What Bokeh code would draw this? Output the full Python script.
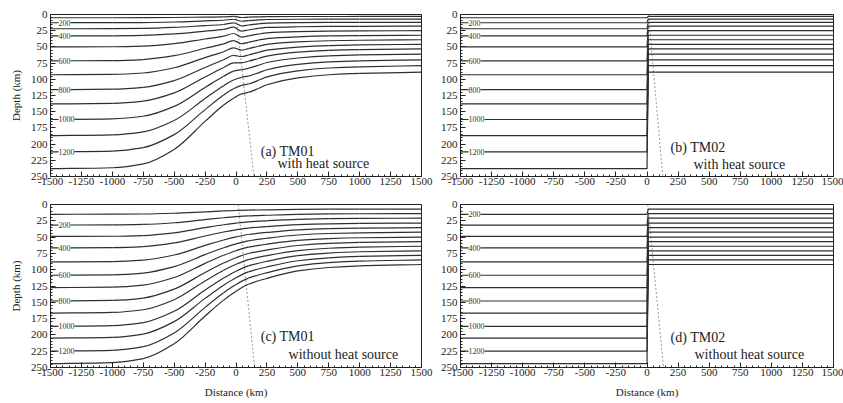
from bokeh.plotting import figure
from bokeh.models import Range1d, FixedTicker, ColumnDataSource, LabelSet, Label
from bokeh.layouts import column, row
from bokeh.embed import file_html
from bokeh.resources import INLINE

# ---------------- data ----------------
isotherms = [100, 200, 300, 400, 500, 600, 700, 800, 900, 1000, 1100, 1200, 1300]

x_ticks = [-1500, -1250, -1000, -750, -500, -250, 0, 250, 500, 750, 1000, 1250, 1500]
x_tick_labels = ["-1500", "-1250", "-1000", "-750", "-500", "-250", "0",
                 "250", "500", "750", "1000", "1250", "1500"]
y_ticks = [0, 25, 50, 75, 100, 125, 150, 175, 200, 225, 250]

# TM01 with heat source: depth (km) of each isotherm at these distances (km)
x_tm01_heat = [-1500, -1000, -750, -500, -250, -100, -20, 45, 100, 180, 250, 500, 750, 1000, 1500]
depth_tm01_heat = [
    [5, 5, 4.9, 4.6, 4.0, 3.7, 2.9, 4.6, 4.1, 3.6, 3.3, 3.1, 3.1, 3.0, 3.0],
    [12.7, 12.6, 12.4, 11.6, 9.9, 8.9, 7.3, 10.4, 9.5, 8.4, 7.7, 7.3, 7.2, 7.1, 7.0],
    [22, 21.9, 21.5, 20, 17.1, 15.4, 12.8, 17.6, 16.2, 14.4, 13.3, 12.6, 12.3, 12.1, 12],
    [33, 32.9, 32.3, 30, 25.7, 23.1, 19.6, 25.6, 23.9, 21.5, 20, 18.9, 18.4, 18.2, 18],
    [50, 49.8, 48.8, 45, 37.8, 33.5, 29.3, 34.8, 33.0, 30.2, 28.3, 26.5, 25.7, 25.3, 25],
    [71.5, 71.1, 69.5, 63.6, 52.1, 45.4, 40.2, 45.1, 43.0, 39.6, 37.1, 34.4, 33.1, 32.5, 32],
    [93, 92.5, 90.3, 82.2, 66.5, 57.4, 51.4, 55.0, 52.7, 49.0, 46.0, 42.2, 40.5, 39.7, 39],
    [116, 115.3, 112.5, 102, 81.7, 69.8, 63.2, 64.8, 62.5, 58.5, 55.1, 50.2, 47.9, 46.9, 46],
    [138, 137.2, 133.8, 121, 96.4, 81.9, 74.8, 74.4, 72.2, 67.9, 64.1, 58.1, 55.3, 54.1, 53],
    [162, 161, 157, 141.8, 112.5, 95.3, 87.4, 85.2, 83.1, 78.5, 74.1, 67.1, 63.7, 62.3, 61],
    [187, 185.8, 181.2, 163.6, 129.7, 109.8, 101.1, 97.0, 95.0, 90.0, 85.2, 77.0, 73.2, 71.5, 70],
    [212, 210.7, 205.4, 185.4, 146.8, 124.2, 114.6, 109.4, 107.2, 101.7, 96.3, 87, 82.6, 80.7, 79],
    [238, 236.5, 230.6, 208.2, 165, 139.7, 129.2, 122.5, 120.3, 114.3, 108.4, 97.9, 93, 90.9, 89],
]

# TM01 without heat source
x_tm01_noheat = [-1500, -1000, -750, -500, -250, -100, 0, 100, 250, 500, 750, 1000, 1500]
depth_tm01_noheat = [
    [15, 14.9, 14.6, 13.4, 11.2, 9.9, 9.2, 8.6, 8.1, 7.5, 7.2, 7.1, 7],
    [31.5, 31.3, 30.6, 28, 23.1, 20.3, 18.7, 17.5, 16.5, 15.1, 14.5, 14.2, 14],
    [49, 48.7, 47.6, 43.4, 35.6, 31.1, 28.6, 26.6, 24.9, 22.8, 21.8, 21.4, 21],
    [66.5, 66.1, 64.6, 58.9, 48.3, 42.2, 38.8, 36.1, 33.8, 31, 29.6, 29, 28.5],
    [88, 87.5, 85.4, 77.5, 62.8, 54.4, 49.7, 46, 42.9, 38.9, 37.1, 36.2, 35.5],
    [108.5, 107.8, 105.2, 95.3, 76.8, 66.3, 60.3, 55.7, 51.7, 46.8, 44.5, 43.4, 42.5],
    [127.5, 126.7, 123.6, 112, 90.3, 77.9, 70.9, 65.5, 60.9, 55, 52.3, 51, 50],
    [148, 147.1, 143.5, 129.8, 104.3, 89.8, 81.6, 75.2, 69.7, 62.9, 59.7, 58.2, 57],
    [166.5, 165.5, 161.4, 146, 117.3, 100.9, 91.7, 84.5, 78.4, 70.7, 67.1, 65.3, 64],
    [187, 185.8, 181.2, 163.8, 131.3, 112.8, 102.3, 94.2, 87.2, 78.5, 74.5, 72.5, 71],
    [205, 203.7, 198.7, 179.6, 144, 123.7, 112.3, 103.4, 95.8, 86.3, 81.8, 79.7, 78],
    [225, 223.6, 218, 197, 157.8, 135.4, 122.8, 113, 104.6, 94.1, 89.2, 86.8, 85],
    [244, 242.5, 236.4, 213.6, 171, 146.7, 133, 122.4, 113.3, 101.9, 96.6, 94, 92],
]

# TM02: flat isotherms left and right of the trench (x = 0)
x_tm02 = [-1500, 0, 10, 1500]
left_tm02_heat = [5, 12.7, 22, 33, 50, 71.5, 93, 116, 138, 162, 187, 212, 238]
right_tm02_heat = [3, 7, 12, 18, 25, 32, 39, 46, 53, 61, 70, 79, 89]
left_tm02_noheat = [15, 31.5, 49, 66.5, 88, 108.5, 127.5, 148, 166.5, 187, 205, 225, 244]
right_tm02_noheat = [7, 14, 21, 28.5, 35.5, 42.5, 50, 57, 64, 71, 78, 85, 92]

# contour labels: text and the isotherm (index) they sit on, per panel
contour_texts = ["200", "400", "600", "800", "1000", "1200"]
label_lines_a = [1, 3, 5, 7, 9, 11]
label_lines_b = [1, 3, 5, 7, 9, 11]
label_lines_c = [1, 3, 5, 7, 9, 11]
label_lines_d = [0, 3, 5, 7, 9, 11]

# slab boundary (dashed): x at depth 0 and at depth 250
slab_a = [0, 145]
slab_b = [12, 127]
slab_c = [18, 150]
slab_d = [6, 133]

panel_tags = ["(a) TM01", "(b) TM02", "(c) TM01", "(d) TM02"]
panel_notes = ["with heat source", "with heat source",
               "without heat source", "without heat source"]

SERIF = "Liberation Serif"
LINE_COLOR = "#2e2e2e"


def smooth_segments(xs_list, ys_list):
    """Cubic Bezier pieces through every read point (monotone tangents, no overshoot)."""
    cols = dict(x0=[], y0=[], x1=[], y1=[], cx0=[], cy0=[], cx1=[], cy1=[])
    for x, y in zip(xs_list, ys_list):
        n = len(x)
        h = [x[i + 1] - x[i] for i in range(n - 1)]
        d = [(y[i + 1] - y[i]) / h[i] for i in range(n - 1)]
        m = [0.0] * n
        m[0], m[-1] = d[0], d[-1]
        for i in range(1, n - 1):
            if d[i - 1] * d[i] <= 0:
                m[i] = 0.0
            else:
                w1 = 2 * h[i] + h[i - 1]
                w2 = h[i] + 2 * h[i - 1]
                m[i] = (w1 + w2) / (w1 / d[i - 1] + w2 / d[i])
        for i in range(n - 1):
            cols["x0"].append(x[i]); cols["y0"].append(y[i])
            cols["x1"].append(x[i + 1]); cols["y1"].append(y[i + 1])
            cols["cx0"].append(x[i] + h[i] / 3); cols["cy0"].append(y[i] + m[i] * h[i] / 3)
            cols["cx1"].append(x[i + 1] - h[i] / 3); cols["cy1"].append(y[i + 1] - m[i + 1] * h[i] / 3)
    return ColumnDataSource(cols)


def make_panel(xs_list, ys_list, smooth, label_lines, slab, tag, note, tag_pos, note_pos,
               width, height, mbl, mbr, mbt, mbb, ylabel, xlabel):
    p = figure(width=width, height=height,
               x_range=Range1d(-1500, 1500), y_range=Range1d(250, 0),
               output_backend="svg", toolbar_location=None,
               min_border_left=mbl, min_border_right=mbr,
               min_border_top=mbt, min_border_bottom=mbb)
    p.grid.visible = False
    p.outline_line_color = "#222222"
    p.outline_line_width = 1
    p.background_fill_color = "white"
    p.border_fill_color = "white"

    x_minor = [v for v in range(-1500, 1501, 50) if v not in x_ticks]
    y_minor = [v for v in range(0, 251, 5) if v not in y_ticks]
    p.xaxis.ticker = FixedTicker(ticks=x_ticks, minor_ticks=x_minor)
    p.yaxis.ticker = FixedTicker(ticks=y_ticks, minor_ticks=y_minor)
    p.xaxis.major_label_overrides = {t: s for t, s in zip(x_ticks, x_tick_labels)}
    p.yaxis.major_label_overrides = {t: str(t) for t in y_ticks}
    for ax in (p.xaxis[0], p.yaxis[0]):
        ax.major_label_text_font = SERIF
        ax.major_label_text_font_size = "11px"
        ax.major_label_text_color = "#222222"
        ax.axis_line_color = "#222222"
        ax.major_tick_line_color = "#222222"
        ax.minor_tick_line_color = "#222222"
        ax.major_tick_in = 5
        ax.major_tick_out = 0
        ax.minor_tick_in = 2
        ax.minor_tick_out = 0
        ax.axis_label_text_font = SERIF
        ax.axis_label_text_font_size = "11px"
        ax.axis_label_text_font_style = "normal"
        ax.axis_label_text_color = "#222222"
    p.xaxis.major_label_standoff = 1
    p.yaxis.major_label_standoff = 3
    if ylabel:
        p.yaxis.axis_label = ylabel
        p.yaxis.axis_label_standoff = 6
    if xlabel:
        p.xaxis.axis_label = xlabel
        p.xaxis.axis_label_standoff = 7

    # slab boundary
    p.line([slab[0], slab[1]], [0, 250], line_color="#9a9a9a",
           line_dash="2 2", line_width=1)

    # isotherms
    if smooth:
        p.bezier(x0="x0", y0="y0", x1="x1", y1="y1", cx0="cx0", cy0="cy0",
                 cx1="cx1", cy1="cy1", source=smooth_segments(xs_list, ys_list),
                 line_color=LINE_COLOR, line_width=1.2)
    else:
        p.multi_line(xs=xs_list, ys=ys_list, line_color=LINE_COLOR, line_width=1.2)

    # contour labels
    src = ColumnDataSource(dict(
        x=[-1435] * len(label_lines),
        y=[ys_list[i][0] for i in label_lines],
        text=contour_texts,
    ))
    p.add_layout(LabelSet(x="x", y="y", text="text", source=src,
                          text_font=SERIF, text_font_size="8px",
                          text_color="#333333", text_align="left",
                          text_baseline="middle",
                          background_fill_color="white"))

    p.add_layout(Label(x=tag_pos[0], y=tag_pos[1], text=tag, text_font=SERIF,
                       text_font_size="14px", text_color="#222222",
                       text_baseline="middle"))
    p.add_layout(Label(x=note_pos[0], y=note_pos[1], text=note, text_font=SERIF,
                       text_font_size="14px", text_color="#222222",
                       text_baseline="middle"))
    return p


xs_a = [x_tm01_heat] * len(isotherms)
xs_c = [x_tm01_noheat] * len(isotherms)
xs_b = [x_tm02] * len(isotherms)
ys_b = [[l, l, r, r] for l, r in zip(left_tm02_heat, right_tm02_heat)]
ys_d = [[l, l, r, r] for l, r in zip(left_tm02_noheat, right_tm02_noheat)]

pa = make_panel(xs_a, depth_tm01_heat, True, label_lines_a, slab_a, panel_tags[0], panel_notes[0],
                (200, 212), (335, 230), 436, 194, 50, 15, 14, 18, "Depth (km)", None)
pb = make_panel(xs_b, ys_b, False, label_lines_b, slab_b, panel_tags[1], panel_notes[1],
                (190, 205), (374, 232), 407, 194, 24, 10, 14, 18, None, None)
pc = make_panel(xs_c, depth_tm01_noheat, True, label_lines_c, slab_c, panel_tags[2], panel_notes[2],
                (200, 203), (425, 230), 436, 209, 50, 15, 10, 36, "Depth (km)", "Distance (km)")
pd_ = make_panel(xs_b, ys_d, False, label_lines_d, slab_d, panel_tags[3], panel_notes[3],
                 (190, 204), (382, 230), 407, 209, 24, 10, 10, 36, None, "Distance (km)")

layout = column(row(pa, pb), row(pc, pd_))

open("out.html", "w").write(file_html(layout, INLINE))
